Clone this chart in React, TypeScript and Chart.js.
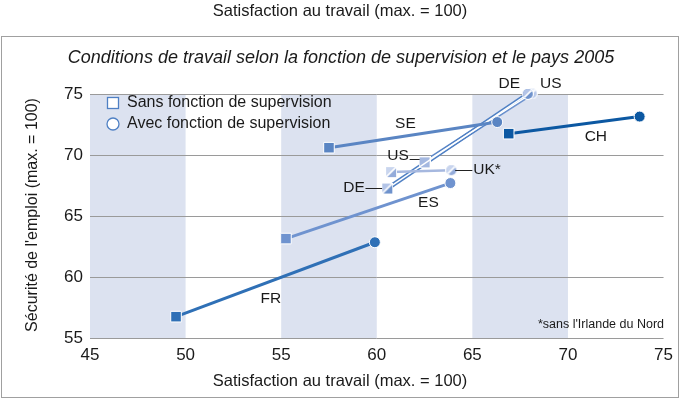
import React, { useEffect, useRef } from 'react';
import { Chart, registerables } from 'chart.js';
Chart.register(...registerables);

const countries = ['FR', 'ES', 'SE', 'CH', 'UK', 'DE', 'US'];
const sansX = [49.5, 55.25, 57.5, 66.9, 60.75, 60.55, 62.5];
const sansY = [56.75, 63.15, 70.6, 71.75, 68.6, 67.25, 69.4];
const avecX = [59.9, 63.85, 66.3, 73.75, 63.9, 67.9, 68.1];
const avecY = [62.85, 67.7, 72.7, 73.15, 68.75, 75.0, 75.05];
const xTicks = [45, 50, 55, 60, 65, 70, 75];
const yTicks = [55, 60, 65, 70, 75];
const bands = [[45, 50], [55, 60], [65, 70]];

const titleText = 'Conditions de travail selon la fonction de supervision et le pays 2005';
const topText = 'Satisfaction au travail (max. = 100)';
const xTitle = 'Satisfaction au travail (max. = 100)';
const yTitle = "Sécurité de l'emploi (max. = 100)";
const legendLabels = ['Sans fonction de supervision', 'Avec fonction de supervision'];
const footnote = "*sans l'Irlande du Nord";

// country label annotations: text, x, y, align
const labelTexts = ['DE', 'US', 'SE', 'CH', 'US', 'UK*', 'DE', 'ES', 'FR'];
const labelX = [66.93, 69.1, 61.5, 71.46, 61.68, 65.05, 59.37, 62.7, 54.46];
const labelY = [75.87, 75.87, 72.6, 71.5, 69.95, 68.77, 67.3, 66.07, 58.25];
const labelAlign = ['center', 'center', 'center', 'center', 'right', 'left', 'right', 'center', 'center'];
// leader lines [x1, x2, y]
const leaders = [[61.72, 62.24, 69.67], [64.1, 65.0, 68.77], [59.41, 60.28, 67.27]];

const FONT = '"Liberation Sans", Arial, sans-serif';

const colors: Record<string, string> = {
  FR: '#2f70b6',
  ES: '#6f93cf',
  SE: '#5a85c3',
  CH: '#0c58a2',
  UK: '#a6b8df',
  DE: '#4f80c4',
  US: '#6f93cf',
};

function makeMarker(shape: 'rect' | 'circle', light: string, dark: string, diag: boolean) {
  const s = 12;
  const c = document.createElement('canvas');
  c.width = s;
  c.height = s;
  const g = c.getContext('2d')!;
  const path = () => {
    g.beginPath();
    if (shape === 'rect') g.rect(1, 1, s - 2, s - 2);
    else g.arc(s / 2, s / 2, s / 2 - 1, 0, Math.PI * 2);
  };
  g.fillStyle = '#ffffff';
  if (shape === 'rect') g.fillRect(0, 0, s, s);
  else {
    g.beginPath();
    g.arc(s / 2, s / 2, s / 2, 0, Math.PI * 2);
    g.fill();
  }
  g.save();
  path();
  g.clip();
  g.fillStyle = dark;
  g.fillRect(0, 0, s, s);
  if (diag) {
    g.fillStyle = light;
    g.beginPath();
    g.moveTo(0, 0);
    g.lineTo(s, 0);
    g.lineTo(0, s);
    g.closePath();
    g.fill();
    g.strokeStyle = '#ffffff';
    g.lineWidth = 1.6;
    g.beginPath();
    g.moveTo(0, s);
    g.lineTo(s, 0);
    g.stroke();
  }
  g.restore();
  return c;
}

export default function App() {
  const ref = useRef<HTMLCanvasElement>(null);
  useEffect(() => {
    document.body.style.margin = '0';
    const canvas = ref.current!;
    const deSq = makeMarker('rect', '#b3c4e7', '#6e92cc', true);
    const deCi = makeMarker('circle', '#b3c4e7', '#6e92cc', true);
    const ukSq = makeMarker('rect', '#c9d5ee', '#93abda', true);
    const ukCi = makeMarker('circle', '#c9d5ee', '#93abda', true);
    const usSq = makeMarker('rect', '#a4b8e0', '#a4b8e0', false);
    const usCi = makeMarker('circle', '#e8eef9', '#b7c8ea', true);

    const datasets: any[] = [];
    countries.forEach((c, i) => {
      const pts = [
        { x: sansX[i], y: sansY[i] },
        { x: avecX[i], y: avecY[i] },
      ];
      if (c === 'DE' || c === 'US') {
        datasets.push({
          data: pts,
          showLine: true,
          borderColor: colors[c],
          borderWidth: 4.5,
          pointRadius: 0,
          order: 20,
          clip: false,
        });
        datasets.push({
          data: pts,
          showLine: true,
          borderColor: '#ffffff',
          borderWidth: 1.5,
          pointStyle: c === 'DE' ? [deSq, deCi] : [usSq, usCi],
          pointRadius: 6,
          order: 10,
          clip: false,
        });
      } else if (c === 'UK') {
        datasets.push({
          data: pts,
          showLine: true,
          borderColor: colors[c],
          borderWidth: 2.5,
          pointStyle: [ukSq, ukCi],
          pointRadius: 6,
          order: 5,
          clip: false,
        });
      } else {
        datasets.push({
          data: pts,
          showLine: true,
          borderColor: colors[c],
          borderWidth: 3,
          pointStyle: ['rect', 'circle'],
          pointRadius: [7.5, 5.5],
          pointBackgroundColor: colors[c],
          pointBorderColor: '#ffffff',
          pointBorderWidth: 1,
          order: 5,
          clip: false,
        });
      }
    });

    const bandPlugin = {
      id: 'bands',
      beforeDraw(chart: any) {
        const { ctx, chartArea, scales } = chart;
        ctx.save();
        ctx.fillStyle = '#ffffff';
        ctx.fillRect(0, 0, chart.width, chart.height);
        ctx.fillStyle = '#dce2f0';
        bands.forEach(([a, b]) => {
          const x1 = scales.x.getPixelForValue(a);
          const x2 = scales.x.getPixelForValue(b);
          ctx.fillRect(x1, chartArea.top, x2 - x1, chartArea.bottom - chartArea.top);
        });
        ctx.restore();
      },
    };

    const textPlugin = {
      id: 'texts',
      afterDatasetsDraw(chart: any) {
        const { ctx, scales } = chart;
        ctx.save();
        ctx.fillStyle = '#1a1a1a';
        ctx.font = `15.5px ${FONT}`;
        ctx.textBaseline = 'middle';
        labelTexts.forEach((t, i) => {
          ctx.textAlign = labelAlign[i];
          ctx.fillText(t, scales.x.getPixelForValue(labelX[i]), scales.y.getPixelForValue(labelY[i]));
        });
        ctx.strokeStyle = '#222';
        ctx.lineWidth = 1;
        leaders.forEach(([a, b, y]) => {
          const py = Math.round(scales.y.getPixelForValue(y)) + 0.5;
          ctx.beginPath();
          ctx.moveTo(scales.x.getPixelForValue(a), py);
          ctx.lineTo(scales.x.getPixelForValue(b), py);
          ctx.stroke();
        });
        ctx.restore();
      },
      afterDraw(chart: any) {
        const { ctx } = chart;
        ctx.save();
        ctx.strokeStyle = '#a0a0a0';
        ctx.lineWidth = 1;
        ctx.strokeRect(1.5, 36.5, 677, 361);
        ctx.fillStyle = '#1a1a1a';
        ctx.textAlign = 'center';
        ctx.textBaseline = 'middle';
        ctx.font = `16.5px ${FONT}`;
        ctx.fillText(topText, 340, 11);
        ctx.fillText(xTitle, 340, 381);
        ctx.font = `italic 18px ${FONT}`;
        ctx.fillText(titleText, 341, 58);
        ctx.save();
        ctx.translate(33, 215);
        ctx.rotate(-Math.PI / 2);
        ctx.font = `16px ${FONT}`;
        ctx.fillText(yTitle, 0, 0);
        ctx.restore();
        ctx.textAlign = 'right';
        ctx.font = `12.5px ${FONT}`;
        ctx.fillText(footnote, 664, 325);
        // legend
        ctx.textAlign = 'left';
        ctx.font = `16px ${FONT}`;
        ctx.fillText(legendLabels[0], 127, 103);
        ctx.fillText(legendLabels[1], 127, 124);
        ctx.strokeStyle = '#4f80c4';
        ctx.lineWidth = 1.3;
        ctx.fillStyle = '#ffffff';
        ctx.fillRect(107.5, 97.5, 11, 11);
        ctx.strokeRect(107.5, 97.5, 11, 11);
        ctx.beginPath();
        ctx.arc(113, 124, 6, 0, Math.PI * 2);
        ctx.fill();
        ctx.stroke();
        ctx.restore();
      },
    };

    const chart = new Chart(canvas, {
      type: 'scatter',
      data: { datasets },
      plugins: [bandPlugin, textPlugin],
      options: {
        animation: false,
        responsive: false,
        maintainAspectRatio: false,
        events: [],
        layout: { padding: { top: 94, right: 14, left: 0, bottom: 0 } },
        plugins: { legend: { display: false }, tooltip: { enabled: false }, title: { display: false } },
        scales: {
          x: {
            type: 'linear',
            min: 45,
            max: 75,
            afterBuildTicks: (s: any) => {
              s.ticks = xTicks.map((v) => ({ value: v }));
            },
            afterFit: (s: any) => {
              s.height = 62;
            },
            grid: { display: false, drawTicks: false },
            border: { display: false },
            ticks: { padding: 7, color: '#1a1a1a', font: { family: FONT, size: 17 } },
          },
          y: {
            type: 'linear',
            min: 55,
            max: 75,
            afterBuildTicks: (s: any) => {
              s.ticks = yTicks.map((v) => ({ value: v }));
            },
            afterFit: (s: any) => {
              s.width = 90;
            },
            grid: {
              drawTicks: false,
              color: '#9a9a9a',
            },
            border: { display: false },
            ticks: { padding: 7, color: '#1a1a1a', font: { family: FONT, size: 17 } },
          },
        },
      } as any,
    });
    return () => chart.destroy();
  }, []);
  return (
    <div style={{ width: 680, height: 400 }}>
      <canvas ref={ref} width={680} height={400} style={{ display: 'block' }} />
    </div>
  );
}
